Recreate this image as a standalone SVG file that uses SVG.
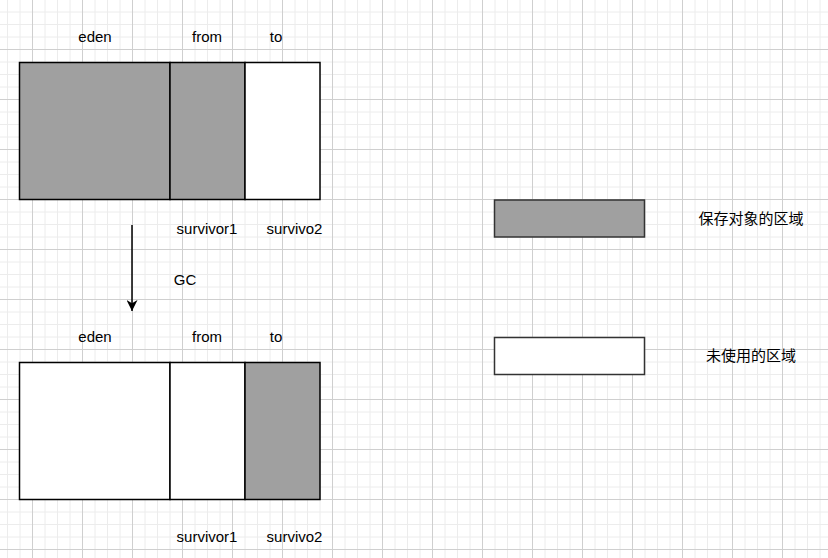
<svg xmlns="http://www.w3.org/2000/svg" width="828" height="558" viewBox="0 0 828 558">
  <style>
    .lbl { font-family: "Liberation Sans", Arial, "Noto Sans CJK SC", sans-serif; font-size: 15px; fill: #000; text-anchor: middle; }
    .full { fill: #a0a0a0; stroke: #000; stroke-width: 1.5; }
    .free { fill: #ffffff; stroke: #000; stroke-width: 1.5; }
    .key-full { fill: #a0a0a0; stroke: #333; stroke-width: 1.5; }
    .key-free { fill: #ffffff; stroke: #333; stroke-width: 1.5; }
    .link { fill: none; stroke: #000; stroke-width: 1.5; }
  </style>
  <defs>
    <pattern id="grid" patternUnits="userSpaceOnUse" x="32" y="49" width="50" height="50">
      <path d="M13 0V50M25.5 0V50M38 0V50M0 13H50M0 25.5H50M0 38H50" stroke="#ececec" stroke-width="1" fill="none"/>
      <path d="M0.5 0V50M0 0.5H50" stroke="#cfcfcf" stroke-width="1" fill="none"/>
    </pattern>
    <marker id="arrow" viewBox="0 0 10 10" refX="10" refY="5" markerWidth="11" markerHeight="11" markerUnits="userSpaceOnUse" orient="auto">
      <path d="M0 0L10 5L0 10L3 5Z" fill="#000"/>
    </marker>
  </defs>

  <!-- background grid -->
  <rect width="828" height="558" fill="#fff"/>
  <rect width="828" height="558" fill="url(#grid)"/>

  <!-- heap before collection -->
  <g id="heap-before">
    <rect class="full" x="19.5" y="62.5" width="150.5" height="137"/>
    <rect class="full" x="170" y="62.5" width="75" height="137"/>
    <rect class="free" x="245" y="62.5" width="75" height="137"/>
    <text class="lbl" x="95" y="42">eden</text>
    <text class="lbl" x="207" y="42">from</text>
    <text class="lbl" x="276" y="42">to</text>
    <text class="lbl" x="207" y="234">survivor1</text>
    <text class="lbl" x="294.5" y="234">survivo2</text>
  </g>

  <!-- heap after collection -->
  <g id="heap-after">
    <rect class="free" x="19.5" y="362.5" width="150.5" height="137"/>
    <rect class="free" x="170" y="362.5" width="75" height="137"/>
    <rect class="full" x="245" y="362.5" width="75" height="137"/>
    <text class="lbl" x="95" y="342">eden</text>
    <text class="lbl" x="207" y="342">from</text>
    <text class="lbl" x="276" y="342">to</text>
    <text class="lbl" x="207" y="542">survivor1</text>
    <text class="lbl" x="294.5" y="542">survivo2</text>
  </g>

  <!-- legend -->
  <g id="legend-used">
    <rect class="key-full" x="494.5" y="200" width="150" height="37"/>
    <text class="lbl" x="751" y="224">保存对象的区域</text>
  </g>
  <g id="legend-unused">
    <rect class="key-free" x="494.5" y="337.5" width="150" height="37"/>
    <text class="lbl" x="751" y="361">未使用的区域</text>
  </g>

  <!-- GC step -->
  <g id="connectors">
    <line class="link" x1="132" y1="225" x2="132" y2="311" marker-end="url(#arrow)"/>
    <text class="lbl" x="185" y="285">GC</text>
  </g>
</svg>
